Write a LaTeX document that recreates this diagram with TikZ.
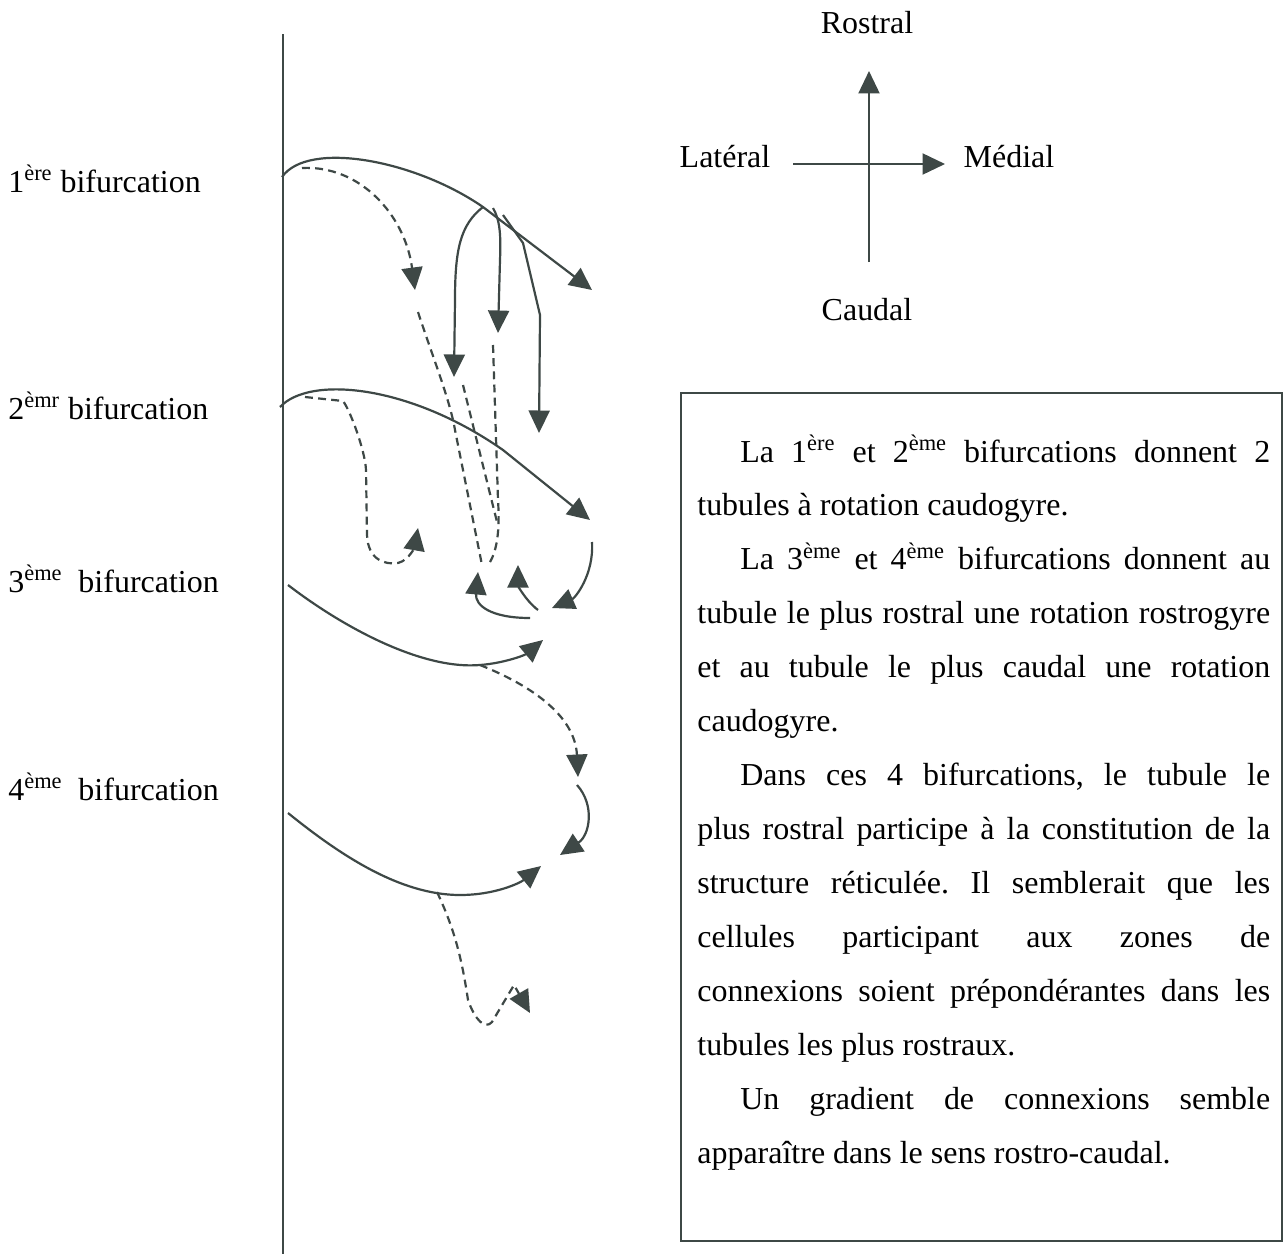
\documentclass[tikz,border=0pt]{standalone}
\usepackage{fontspec}
\setmainfont{Liberation Serif}
\usetikzlibrary{arrows.meta,positioning}
\definecolor{ink}{RGB}{62,72,70}
\tikzset{
  >={Triangle[length=0.45cm,width=0.42cm]},
  axis/.style={draw=ink,line width=1.25pt},
  tube/.style={draw=ink,line width=1.25pt,line join=round,->},
  tubed/.style={tube,dash pattern=on 4.5pt off 3pt},
  bif/.style={font=\fontsize{18.2}{22}\selectfont,inner sep=0pt,anchor=base west},
  dir/.style={font=\fontsize{18.2}{22}\selectfont,inner sep=0pt,anchor=base},
  frame/.style={draw=ink,line width=1.25pt,minimum width=12.02cm,minimum height=16.96cm,anchor=north west,inner sep=0pt},
  note/.style={text width=11.46cm,align=justify,inner sep=0pt,anchor=base west,font=\fontsize{18.2}{30.7}\selectfont}
}

\begin{document}
\begin{tikzpicture}[x=0.02cm,y=-0.02cm]
\path[use as bounding box,fill=white] (0,0) rectangle (1284,1254);

% axe median
\coordinate (mtop) at (283,34);
\coordinate (mbot) at (283,1254);
\draw[axis] (mtop) -- (mbot);

% etiquettes des bifurcations
\node[bif] (bif1) at (8,192) {1\textsuperscript{ère} bifurcation};
\node[bif] (bif2) at (8,419) {2\textsuperscript{èmr} bifurcation};
\node[bif] (bif3) at (8,592) {3\textsuperscript{ème}\ \ bifurcation};
\node[bif] (bif4) at (8,800) {4\textsuperscript{ème}\ \ bifurcation};

% orientation
\node[dir] (rostral) at (867,33) {Rostral};
\node[dir] (caudal) at (867,320) {Caudal};
\node[dir] (lateral) at (725,167) {Latéral};
\node[dir] (medial) at (1009,167) {Médial};
\coordinate (vb) at (869,262);
\coordinate (vt) at (869,71);
\coordinate (hl) at (793,164);
\coordinate (hr) at (945,164);
\draw[axis,->] (vb) -- (vt);
\draw[axis,->] (hl) -- (hr);

% 1ere bifurcation
\coordinate (t1s) at (282,177);
\coordinate (t1k) at (483,207);
\coordinate (t1e) at (592,290);
\coordinate (d1s) at (302,168);
\coordinate (d1e) at (415,290);
\draw[tube] (t1s) .. controls (308,140) and (415,160) .. (t1k) -- (t1e);
\draw[tubed] (d1s) .. controls (360,165) and (405,215) .. (d1e);
\coordinate (ka) at (483,207);
\coordinate (kb) at (493,208);
\coordinate (kc) at (503,215);
\coordinate (ea) at (454,377);
\coordinate (eb) at (498,333);
\coordinate (ec) at (539,433);
\draw[tube] (ka) .. controls (460,225) and (455,250) .. (455,300) -- (ea);
\draw[tube] (kb) .. controls (500,220) and (501,235) .. (500,260) -- (eb);
\draw[tube] (kc) -- (523,243) -- (540,315) -- (ec);

% prolongements en tirets
\coordinate (p1s) at (418,312);
\coordinate (p1e) at (482,565);
\coordinate (p2s) at (463,385);
\coordinate (p2e) at (497,522);
\coordinate (p3s) at (493,345);
\coordinate (p3e) at (490,562);
\draw[axis,dash pattern=on 4.5pt off 3pt] (p1s) .. controls (432,355) and (450,400) .. (455,430) -- (p1e);
\draw[axis,dash pattern=on 4.5pt off 3pt] (p2s) -- (p2e);
\draw[axis,dash pattern=on 4.5pt off 3pt] (p3s) -- (498,500) .. controls (500,530) and (497,550) .. (p3e);

% 2eme bifurcation
\coordinate (t2s) at (280,407);
\coordinate (t2k) at (503,450);
\coordinate (t2e) at (590,520);
\coordinate (d2s) at (305,397);
\coordinate (d2e) at (418,528);
\draw[tube] (t2s) .. controls (310,375) and (410,385) .. (t2k) -- (t2e);
\draw[tubed] (d2s) -- (343,401) .. controls (350,410) and (365,450) .. (366,470) -- (367,535)
  .. controls (368,560) and (385,565) .. (398,563) .. controls (410,560) and (415,545) .. (d2e);

% boucles
\coordinate (r1s) at (530,618);
\coordinate (r1e) at (478,572);
\coordinate (r2s) at (538,610);
\coordinate (r2e) at (518,565);
\coordinate (r3s) at (592,542);
\coordinate (r3e) at (552,608);
\draw[tube] (r1s) .. controls (490,618) and (475,605) .. (r1e);
\draw[tube] (r2s) .. controls (525,600) and (518,585) .. (r2e);
\draw[tube] (r3s) .. controls (594,575) and (575,598) .. (r3e);

% 3eme bifurcation
\coordinate (t3s) at (288,585);
\coordinate (t3k) at (480,665);
\coordinate (t3e) at (543,640);
\coordinate (d3e) at (578,777);
\draw[tube] (t3s) .. controls (340,625) and (420,670) .. (t3k) .. controls (505,663) and (525,655) .. (t3e);
\draw[tubed] (t3k) .. controls (530,685) and (575,715) .. (d3e);
\coordinate (r4s) at (577,785);
\coordinate (r4e) at (560,855);
\draw[tube] (r4s) .. controls (595,805) and (590,835) .. (r4e);

% 4eme bifurcation
\coordinate (t4s) at (288,813);
\coordinate (t4k) at (460,895);
\coordinate (t4e) at (541,866);
\coordinate (d4s) at (437,892);
\coordinate (d4e) at (530,1013);
\draw[tube] (t4s) .. controls (340,855) and (400,895) .. (t4k) .. controls (495,895) and (520,883) .. (t4e);
\draw[tubed] (d4s) .. controls (455,930) and (462,960) .. (468,1000) .. controls (475,1020) and (485,1030) .. (492,1022) -- (514,985) -- (d4e);

% commentaire
\node[frame] (box) at (680,392) {};
\node[note] (txt) at (697,462) {%
\frenchspacing\tolerance=10000\hyphenpenalty=10000
\hspace*{0.86cm}La 1\textsuperscript{ère} et 2\textsuperscript{ème} bifurcations donnent 2\linebreak
tubules à rotation caudogyre.\par
\hspace*{0.86cm}La 3\textsuperscript{ème} et 4\textsuperscript{ème} bifurcations donnent au\linebreak
tubule le plus rostral une rotation rostrogyre\linebreak
et au tubule le plus caudal une rotation\linebreak
caudogyre.\par
\hspace*{0.86cm}Dans ces 4 bifurcations, le tubule le\linebreak
plus rostral participe à la constitution de la\linebreak
structure réticulée. Il semblerait que les\linebreak
cellules participant aux zones de\linebreak
connexions soient prépondérantes dans les\linebreak
tubules les plus rostraux.\par
\hspace*{0.86cm}Un gradient de connexions semble\linebreak
apparaître dans le sens rostro-caudal.};
\end{tikzpicture}
\end{document}
